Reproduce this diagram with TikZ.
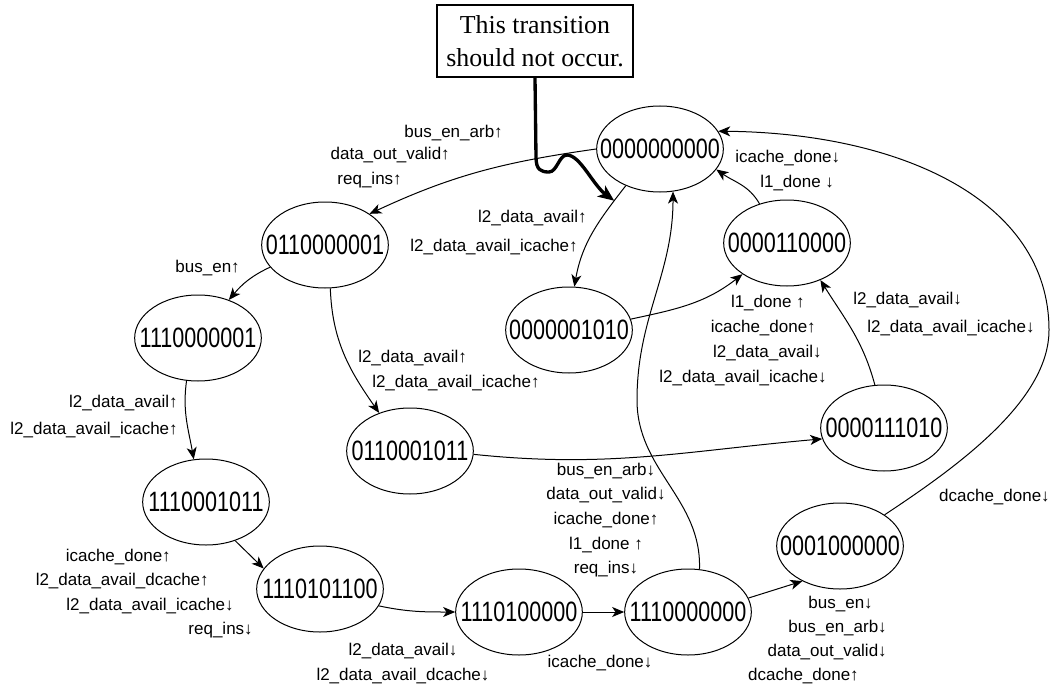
\documentclass[tikz,border=0pt]{standalone}
\usepackage{fontspec}
\setmainfont{Liberation Sans}
\newfontfamily\statefamily[FakeStretch=0.77]{Liberation Sans}
\newfontfamily\notefamily{Liberation Serif}
\usetikzlibrary{shapes.geometric,arrows.meta,positioning}
\newcommand{\bits}[1]{\makebox[0pt]{#1}}

\begin{document}
\begin{tikzpicture}[x=0.75pt, y=0.75pt,
  bitstate/.style={ellipse, draw=black, line width=0.75pt, minimum width=95pt, minimum height=64.5pt, inner sep=0pt, font=\statefamily\fontsize{21}{24}\selectfont},
  lbl/.style={inner sep=0pt, font=\fontsize{12.75}{18.5}\selectfont},
  trans/.style={line width=0.75pt, -{Stealth[length=9pt,width=7.5pt,inset=2.5pt]}},
  notebox/.style={draw=black, line width=1.5pt, minimum width=147pt, minimum height=54pt, inner sep=0pt, align=center, font=\notefamily\fontsize{19.4}{24.75}\selectfont},
  pointer/.style={line width=2.5pt, -{Stealth[length=12pt,width=10pt,inset=3pt]}}
]
\useasboundingbox (0,0) rectangle (1053,687);

% States
\node[bitstate] (s0) at (660,538) {\bits{0000000000}};
\node[bitstate] (s1) at (325,442) {\bits{0110000001}};
\node[bitstate] (s2) at (198,349) {\bits{1110000001}};
\node[bitstate] (s3) at (206,185) {\bits{1110001011}};
\node[bitstate] (s4) at (320,98) {\bits{1110101100}};
\node[bitstate] (s5) at (519,75) {\bits{1110100000}};
\node[bitstate] (s6) at (688,75) {\bits{1110000000}};
\node[bitstate] (s7) at (840,141) {\bits{0001000000}};
\node[bitstate] (s8) at (410,236) {\bits{0110001011}};
\node[bitstate] (s9) at (787,444) {\bits{0000110000}};
\node[bitstate] (s10) at (884,259) {\bits{0000111010}};
\node[bitstate] (s11) at (569,357) {\bits{0000001010}};

% Warning box
\node[notebox] (warn) at (535,646) {This transition\\should not occur.};

% Bends of the long curves
\coordinate (bendA) at (637,287);
\coordinate (bendB) at (1049,357);

% Transitions
\draw[trans] (s0.west) to[out=188,in=25] (s1.35);
\draw[trans] (s0.227) to[out=232,in=80] coordinate[pos=0.15] (hit) (s11.83);
\draw[trans] (s1.202) to[out=205,in=50] (s2.51);
\draw[trans] (s2.255) to[out=262,in=100] (s3.106);
\draw[trans] (s1.277) to[out=272,in=125] (s8.129);
\draw[trans] (s11.10) to[out=12,in=218] (s9.215);
\draw[trans] (s9.125) to[out=120,in=-35] (s0.-20);
\draw[trans] (s10.102) to[out=105,in=-58] (s9.-48);
\draw[trans] (s8.-3) to[out=-6,in=185] (s10.190);
\draw[trans] (s3.-53) -- (s4.160);
\draw[trans] (s4.-16) to[out=-12,in=180] (s5.west);
\draw[trans] (s5.east) -- (s6.west);
\draw[trans] (s6.13) -- (s7.223);
\draw[trans] (s6.75) to[out=88,in=-90] (bendA) to[out=90,in=-90] (s0.-73);
\draw[trans] (s7.35) .. controls (960,222) and (1049,287) .. (bendB)
  .. controls (1049,487) and (900,554) .. (s0.17);

% Pointer from the warning
\draw[pointer] (warn.south) -- (536,530) .. controls (536,517) and (541,515) .. (549,515)
  .. controls (557,515) and (559,532) .. (567,532) .. controls (580,532) and (593,502) .. (hit);

% Labels
\node[lbl, anchor=east] (a1) at (503,554) {bus\_en\_arb↑};
\node[lbl, anchor=east] (a2) at (450,532) {data\_out\_valid↑};
\node[lbl, anchor=east] (a3) at (402,507) {req\_ins↑};

\node[lbl, anchor=east] (b1) at (587,469) {l2\_data\_avail↑};
\node[lbl, anchor=east] (b2) at (578,440) {l2\_data\_avail\_icache↑};

\node[lbl, anchor=east] (c1) at (240,419) {bus\_en↑};

\node[lbl, anchor=east] (d1) at (178,284) {l2\_data\_avail↑};
\node[lbl, anchor=east] (d2) at (178,257) {l2\_data\_avail\_icache↑};

\node[lbl, anchor=west] (e1) at (358,329) {l2\_data\_avail↑};
\node[lbl, anchor=west] (e2) at (372,304) {l2\_data\_avail\_icache↑};

\node[lbl, anchor=east] (f1) at (805,384) {l1\_done ↑};
\node[lbl, anchor=east] (f2) at (816,359) {icache\_done↑};
\node[lbl, anchor=east] (f3) at (822,334) {l2\_data\_avail↓};
\node[lbl, anchor=east] (f4) at (827,309) {l2\_data\_avail\_icache↓};

\node[lbl, anchor=west] (g1) at (735,529) {icache\_done↓};
\node[lbl, anchor=west] (g2) at (760,504) {l1\_done ↓};

\node[lbl, anchor=west] (h1) at (853,387) {l2\_data\_avail↓};
\node[lbl, anchor=west] (h2) at (867,359) {l2\_data\_avail\_icache↓};

\node[lbl, align=center] (i1) at (606,167) {bus\_en\_arb↓\\data\_out\_valid↓\\icache\_done↑\\l1\_done ↑\\req\_ins↓};

\node[lbl, anchor=east] (j1) at (171,130) {icache\_done↑};
\node[lbl, anchor=east] (j2) at (209,106) {l2\_data\_avail\_dcache↑};
\node[lbl, anchor=east] (j3) at (234,81) {l2\_data\_avail\_icache↓};
\node[lbl, anchor=east] (j4) at (253,57) {req\_ins↓};

\node[lbl, align=center] (k1) at (403,23.5) {l2\_data\_avail↓\\l2\_data\_avail\_dcache↓};

\node[lbl] (m1) at (600,24) {icache\_done↓};

\node[lbl, anchor=east] (n1) at (873,83) {bus\_en↓};
\node[lbl, anchor=east] (n2) at (887,59) {bus\_en\_arb↓};
\node[lbl, anchor=east] (n3) at (887,35) {data\_out\_valid↓};
\node[lbl, anchor=east] (n4) at (859,11) {dcache\_done↑};

\node[lbl, anchor=east] (p1) at (1050,190) {dcache\_done↓};

\end{tikzpicture}
\end{document}
